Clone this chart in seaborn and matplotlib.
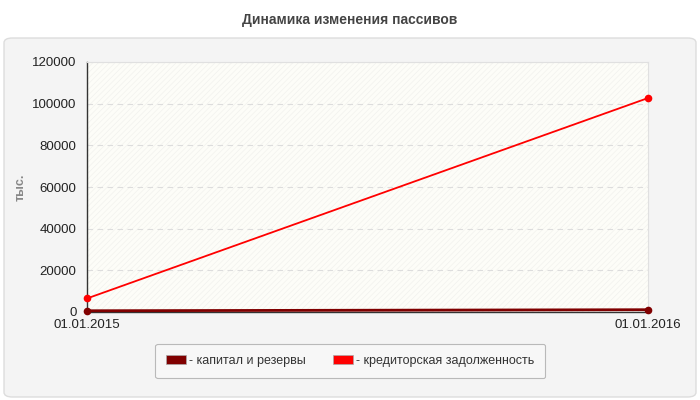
import pandas as pd
import matplotlib.pyplot as plt
import seaborn as sns
from matplotlib.patches import FancyBboxPatch, Patch

dates = ["01.01.2015", "01.01.2016"]
capital = [600, 1100]
payables = [6500, 102700]
series_names = ["капитал и резервы", "кредиторская задолженность"]
colors = ["#800000", "#ff0000"]

df = pd.DataFrame({
    "date": dates * 2,
    "pos": [0, 1] * 2,
    "value": capital + payables,
    "series": [series_names[0]] * 2 + [series_names[1]] * 2,
})

sns.set_style("white")
plt.rcParams["font.family"] = ["Liberation Sans", "DejaVu Sans"]
plt.rcParams["hatch.linewidth"] = 0.5

fig = plt.figure(figsize=(7, 4), dpi=100)
fig.patch.set_facecolor("white")

# grey panel behind the chart
panel = FancyBboxPatch((4 / 700, 3 / 400), 692 / 700, 359 / 400,
                       boxstyle="round,pad=0,rounding_size=0.012",
                       transform=fig.transFigure, facecolor="#f4f4f4",
                       edgecolor="#dddddd", linewidth=1, zorder=-10)
fig.patches.append(panel)

fig.text(0.5, 0.95, "Динамика изменения пассивов", ha="center", va="center",
         fontsize=10, fontweight="bold", color="#444444")

ax = fig.add_axes([87 / 700, 88 / 400, 561 / 700, 250 / 400])
ax.set_zorder(1)
ax.set_facecolor("#fdfdf8")
ax.patch.set_hatch("//////")
ax.patch.set_edgecolor("#f2f2ee")
ax.patch.set_linewidth(0)

sns.lineplot(data=df, x="pos", y="value", hue="series", palette=colors,
             marker="o", markersize=5.5, markeredgewidth=0, linewidth=1.3,
             legend=False, ax=ax, zorder=3, clip_on=False)
ax.lines[0].set_linewidth(2)

ax.set_xlim(0, 1)
ax.set_ylim(0, 120000)
ax.set_xticks([0, 1])
ax.set_xticklabels(dates)
ax.set_yticks(range(0, 120001, 20000))
ax.tick_params(axis="both", labelsize=9.5, colors="#222222", length=4, width=1)
ax.tick_params(axis="x", direction="out", pad=1)
ax.grid(axis="y", linestyle=(0, (5, 4)), color="#dddddd", linewidth=0.8)
ax.set_axisbelow(True)

for side in ["top", "right"]:
    ax.spines[side].set_color("#e0e0e0")
    ax.spines[side].set_linewidth(0.8)
for side in ["left", "bottom"]:
    ax.spines[side].set_color("#333333")
    ax.spines[side].set_linewidth(1)

ax.set_xlabel("")
ax.set_ylabel("тыс.", fontsize=9, fontweight="bold", color="#888888", labelpad=4)

handles = [Patch(facecolor=c, edgecolor="#aaaaaa", linewidth=0.5, label="- " + n)
           for c, n in zip(colors, series_names)]
leg = fig.legend(handles=handles, loc="center", bbox_to_anchor=(0.5, 0.0975),
                 ncol=2, frameon=True, fontsize=9, handlelength=1.6,
                 handleheight=0.7, handletextpad=0.2, columnspacing=2.2,
                 borderpad=0.9, fancybox=True)
leg.get_frame().set_edgecolor("#aaaaaa")
leg.get_frame().set_facecolor("#f8f8f8")
leg.get_frame().set_linewidth(0.8)
for t in leg.get_texts():
    t.set_color("#333333")

fig.savefig("out.png", dpi=100)
